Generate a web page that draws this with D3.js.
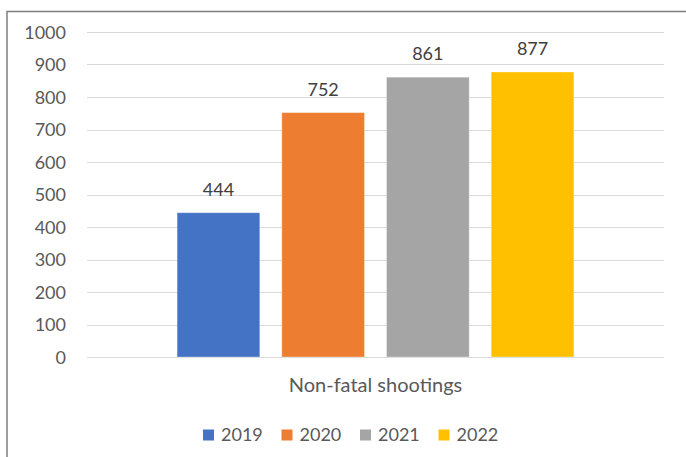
<!DOCTYPE html>
<html>
<head>
<meta charset="utf-8">
<script src="https://cdn.jsdelivr.net/npm/d3@7"></script>
<style>
	html, body { margin: 0; padding: 0; background: #fff; }
	svg { display: block; font-family: Lato, "Open Sans", sans-serif; }
</style>
</head>
<body>
<svg id="chart" width="686" height="457"></svg>
<script>
// values
const categories = ["Non-fatal shootings"];
const years = ["2019", "2020", "2021", "2022"];
const values = [444, 752, 861, 877];
const colors = ["#4472c4", "#ed7d31", "#a5a5a5", "#ffc000"];
const yTicks = [0, 100, 200, 300, 400, 500, 600, 700, 800, 900, 1000];

const svg = d3.select("#chart");
const width = 686, height = 457;
const plot = { left: 87, right: 664, top: 32, bottom: 357 };
const textColor = "#595959";

// chart frame (runs off the right and bottom of the picture)
svg.append("rect")
	.attr("x", 7).attr("y", 11.5)
	.attr("width", width + 20).attr("height", height + 20)
	.attr("fill", "#fff")
	.attr("stroke", "#7f7f7f")
	.attr("stroke-width", 1.5);

const y = d3.scaleLinear().domain([0, 1000]).range([plot.bottom, plot.top]);

const x0 = d3.scaleBand()
	.domain(categories)
	.range([plot.left, plot.right])
	.paddingInner(0)
	.paddingOuter(0.227);

const x1 = d3.scaleBand()
	.domain(years)
	.range([0, x0.bandwidth()])
	.paddingInner(0.21);

const color = d3.scaleOrdinal(years, colors);

// gridlines
svg.append("g")
	.selectAll("line")
	.data(yTicks)
	.join("line")
	.attr("x1", plot.left).attr("x2", plot.right)
	.attr("y1", d => Math.round(y(d)) + 0.5)
	.attr("y2", d => Math.round(y(d)) + 0.5)
	.attr("stroke", "#d9d9d9")
	.attr("stroke-width", 1);

// y axis labels
const yAxis = svg.append("g")
	.attr("transform", "translate(66,0)")
	.call(d3.axisLeft(y).tickValues(yTicks).tickFormat(d3.format("d")).tickSize(0).tickPadding(0));
yAxis.select(".domain").remove();
yAxis.selectAll("text")
	.attr("fill", textColor)
	.attr("font-size", 18)
	.attr("font-family", "Lato, sans-serif")
	.attr("dy", "0.34em");

// bars
const group = svg.append("g")
	.selectAll("g")
	.data(categories)
	.join("g")
	.attr("transform", d => "translate(" + x0(d) + ",0)");

const rows = years.map((yr, i) => ({ year: yr, value: values[i] }));

group.selectAll("rect")
	.data(rows)
	.join("rect")
	.attr("x", d => x1(d.year))
	.attr("y", d => y(d.value))
	.attr("width", x1.bandwidth())
	.attr("height", d => y(0) - y(d.value))
	.attr("fill", d => color(d.year))
	.attr("stroke", "rgba(255,255,255,0.35)")
	.attr("stroke-width", 1);

group.selectAll("text.value")
	.data(rows)
	.join("text")
	.attr("class", "value")
	.attr("x", d => x1(d.year) + x1.bandwidth() / 2)
	.attr("y", d => y(d.value) - 17)
	.attr("text-anchor", "middle")
	.attr("fill", "#404040")
	.attr("font-size", 18)
	.text(d => d.value);

// category axis label
svg.append("g")
	.selectAll("text")
	.data(categories)
	.join("text")
	.attr("x", d => x0(d) + x0.bandwidth() / 2)
	.attr("y", 392)
	.attr("text-anchor", "middle")
	.attr("fill", textColor)
	.attr("font-size", 20)
	.text(d => d);

// legend
const legend = svg.append("g")
	.attr("transform", "translate(203,0)")
	.selectAll("g")
	.data(years)
	.join("g")
	.attr("transform", (d, i) => "translate(" + (i * 78.5) + ",0)");

legend.append("rect")
	.attr("x", 0).attr("y", 429.5)
	.attr("width", 11).attr("height", 11)
	.attr("fill", d => color(d));

legend.append("text")
	.attr("x", 18)
	.attr("y", 441)
	.attr("fill", textColor)
	.attr("font-size", 18)
	.text(d => d);
</script>
</body>
</html>
